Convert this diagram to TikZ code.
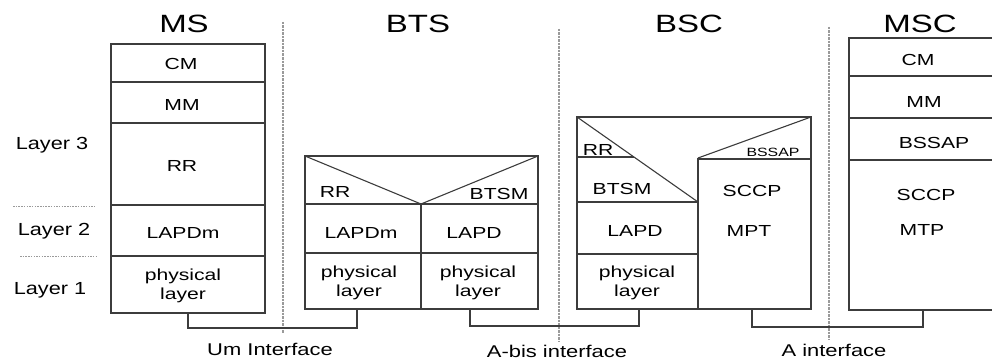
\documentclass[tikz,border=0pt]{standalone}
\usepackage{fontspec}
\setmainfont{Liberation Sans}
\usepackage{graphicx}
% text is set slightly widened, as in the original drawing
\newcommand{\wtxt}[2][1.32]{\scalebox{#1}[1]{#2}}
\definecolor{linec}{HTML}{3C3C3C}
\definecolor{sepc}{HTML}{9A9A9A}
\tikzset{
  frame/.style={draw=linec, line width=1.1pt},
  link/.style={draw=linec, line width=1.1pt},
  ifline/.style={draw=sepc, line width=1.3pt, dash pattern=on 2.5pt off 1pt},
  laysep/.style={draw=sepc, line width=1pt, dash pattern=on 1.5pt off 1.2pt},
  lbl/.style={font=\fontsize{16}{17}\selectfont, inner sep=0pt, anchor=base},
  lbltwo/.style={font=\fontsize{16}{18.5}\selectfont, inner sep=0pt, align=center, anchor=center},
  small/.style={font=\fontsize{12}{13}\selectfont, inner sep=0pt, anchor=base},
  title/.style={font=\fontsize{25}{26}\selectfont, inner sep=0pt, anchor=base},
  layer/.style={font=\fontsize{17.5}{18}\selectfont, inner sep=0pt, anchor=base},
  iface/.style={font=\fontsize{17}{18}\selectfont, inner sep=0pt, anchor=base},
}
\begin{document}
\begin{tikzpicture}[x=1pt,y=-1pt]
\useasboundingbox (0,0) rectangle (992,361);
\clip (0,0) rectangle (992,361);

% ---------- interface separators ----------
\coordinate (um-top) at (283,22);  \coordinate (um-bot) at (283,333);
\coordinate (ab-top) at (559,29);  \coordinate (ab-bot) at (559,342);
\coordinate (a-top)  at (829,27);  \coordinate (a-bot)  at (829,340);
\draw[ifline] (um-top) -- (um-bot);
\draw[ifline] (ab-top) -- (ab-bot);
\draw[ifline] (a-top) -- (a-bot);

% ---------- layer labels ----------
\node[layer] (l3) at (52,149) {\wtxt[1.24]{Layer 3}};
\node[layer] (l2) at (54,235) {\wtxt[1.24]{Layer 2}};
\node[layer] (l1) at (50,294) {\wtxt[1.24]{Layer 1}};
\coordinate (s1a) at (13,206); \coordinate (s1b) at (95,206);
\coordinate (s2a) at (20,256); \coordinate (s2b) at (97,256);
\draw[laysep] (s1a) -- (s1b);
\draw[laysep] (s2a) -- (s2b);

% ---------- MS ----------
\node[title] (t-ms) at (184,33) {\wtxt{MS}};
\draw[frame] (111,44) rectangle (265,313);
\draw[frame] (111,82) -- (265,82);
\draw[frame] (111,123) -- (265,123);
\draw[frame] (111,205) -- (265,205);
\draw[frame] (111,256) -- (265,256);
\node[lbl] (ms-cm) at (181,69) {\wtxt{CM}};
\node[lbl] (ms-mm) at (182,110) {\wtxt{MM}};
\node[lbl] (ms-rr) at (182,171) {\wtxt{RR}};
\node[lbl] (ms-l2) at (183,238) {\wtxt{LAPDm}};
\node[lbltwo] (ms-l1) at (183,286) {\wtxt{physical}\\\wtxt{layer}};

% ---------- BTS ----------
\node[title] (t-bts) at (418,33) {\wtxt{BTS}};
\draw[frame] (305,156) rectangle (538,309);
\draw[frame] (305,156) -- (421,204) -- (538,156);
\draw[frame] (305,204) -- (538,204);
\draw[frame] (305,253) -- (538,253);
\draw[frame] (421,204) -- (421,309);
\node[lbl] (bts-rr) at (335,197) {\wtxt{RR}};
\node[lbl] (bts-btsm) at (499,199) {\wtxt{BTSM}};
\node[lbl] (bts-lapdm) at (361,238) {\wtxt{LAPDm}};
\node[lbl] (bts-lapd) at (474,238) {\wtxt{LAPD}};
\node[lbltwo] (bts-phya) at (359,283) {\wtxt{physical}\\\wtxt{layer}};
\node[lbltwo] (bts-phyb) at (478,283) {\wtxt{physical}\\\wtxt{layer}};

% ---------- BSC ----------
\node[title] (t-bsc) at (689,33) {\wtxt{BSC}};
\draw[frame] (577,117) rectangle (811,309);
\draw[frame] (577,117) -- (698,202);
\draw[frame] (698,158) -- (811,117);
\draw[frame] (698,158) -- (698,309);
\draw[frame] (698,159) -- (811,159);
\draw[frame] (577,157) -- (634,157);
\draw[frame] (577,202) -- (698,202);
\draw[frame] (577,254) -- (698,254);
\node[lbl] (bsc-rr) at (598,155) {\wtxt{RR}};
\node[small] (bsc-bssap) at (773,156) {\wtxt{BSSAP}};
\node[lbl] (bsc-btsm) at (622,194) {\wtxt{BTSM}};
\node[lbl] (bsc-sccp) at (752,196) {\wtxt{SCCP}};
\node[lbl] (bsc-lapd) at (635,236) {\wtxt{LAPD}};
\node[lbl] (bsc-mpt) at (749,236) {\wtxt{MPT}};
\node[lbltwo] (bsc-phy) at (637,283) {\wtxt{physical}\\\wtxt{layer}};

% ---------- MSC ----------
\node[title] (t-msc) at (920,33) {\wtxt{MSC}};
\draw[frame] (849,38) rectangle (1010,310);
\draw[frame] (849,76) -- (1010,76);
\draw[frame] (849,118) -- (1010,118);
\draw[frame] (849,160) -- (1010,160);
\node[lbl] (msc-cm) at (918,65) {\wtxt{CM}};
\node[lbl] (msc-mm) at (924,107) {\wtxt{MM}};
\node[lbl] (msc-bssap) at (934,148) {\wtxt{BSSAP}};
\node[lbl] (msc-sccp) at (926,200) {\wtxt{SCCP}};
\node[lbl] (msc-mtp) at (922,235) {\wtxt{MTP}};

% ---------- peer links across the interfaces ----------
\coordinate (p-ms)   at (188,313);
\coordinate (p-btsa) at (357,309);
\coordinate (p-btsb) at (470,309);
\coordinate (p-bsca) at (639,309);
\coordinate (p-bscb) at (752,309);
\coordinate (p-msc)  at (923,310);
\draw[link] (p-ms) -- ++(0,15) -| (p-btsa);
\draw[link] (p-btsb) -- ++(0,17) -| (p-bsca);
\draw[link] (p-bscb) -- ++(0,18) -| (p-msc);

\node[iface] (if-um) at (270,355) {\wtxt[1.29]{Um Interface}};
\node[iface] (if-abis) at (557,357) {\wtxt[1.29]{A-bis interface}};
\node[iface] (if-a) at (834,356) {\wtxt[1.29]{A interface}};
\end{tikzpicture}
\end{document}
